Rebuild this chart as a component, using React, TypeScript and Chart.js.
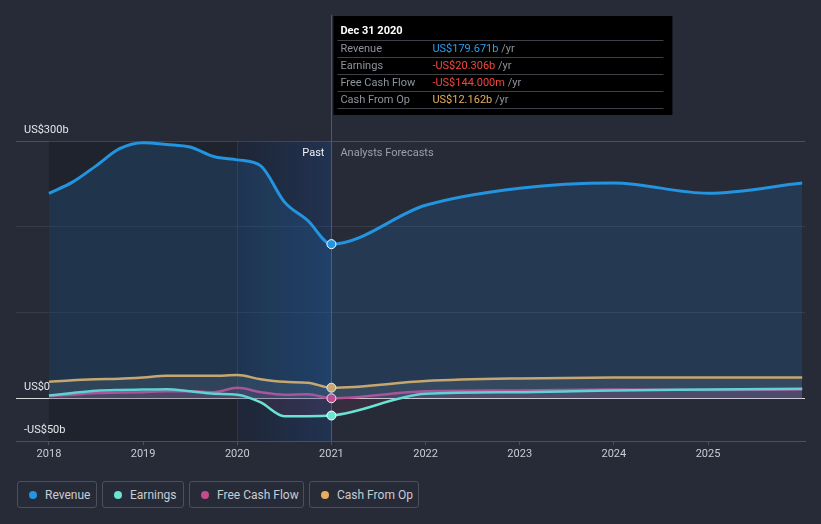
import React, { useEffect, useRef } from 'react';
import { Chart, registerables } from 'chart.js';

Chart.register(...registerables);

// ---------- data ----------
const dates = [
  2018.0, 2018.25, 2018.5, 2018.75, 2019.0, 2019.25, 2019.5, 2019.75,
  2020.0, 2020.25, 2020.5, 2020.75, 2021.0,
  2022.0, 2023.0, 2024.0, 2025.0, 2026.0,
];
const revenue = [239, 252, 271, 291, 298, 296, 293, 282, 278, 271, 229, 207, 179.671, 225, 245, 251, 239, 251];
const earnings = [3, 6, 8.5, 9.5, 10, 10.5, 8, 5, 4, -5, -21, -21, -20.306, 5, 7, 9, 10, 11];
const freeCashFlow = [2.5, 4, 6, 6.5, 7, 8, 8, 7, 12, 7, 4, 4.5, -0.144, 8, 9, 10, 9.5, 10];
const cashFromOp = [19, 21, 22, 22.5, 24, 26, 26, 26, 27, 22, 19, 18, 12.162, 20, 23, 24, 24, 24];

const seriesNames = ['Revenue', 'Earnings', 'Free Cash Flow', 'Cash From Op'];
const seriesColors = ['#2394df', '#6ae3d2', '#c54b8c', '#e8ae5c'];

const yearTicks = [2018, 2019, 2020, 2021, 2022, 2023, 2024, 2025];
const yTickValues = [-50, 0, 100, 200, 300];
const yLabels: [number, string][] = [
  [300, 'US$300b'],
  [0, 'US$0'],
  [-50, '-US$50b'],
];

const tooltipTitle = 'Dec 31 2020';
const tooltipValues = ['US$179.671b', '-US$20.306b', '-US$144.000m', 'US$12.162b'];
const tooltipValueColors = ['#2b9ef0', '#f0473c', '#f0473c', '#e8ae5c'];

const dataStart = 2018.0;
const pastStart = 2020.0;
const nowDate = 2021.0;
const markerIndex = 12;

const FONT = 'Roboto, "Noto Sans", sans-serif';
const BG = '#262b37';

function hexA(hex: string, a: number) {
  const n = parseInt(hex.slice(1), 16);
  return `rgba(${(n >> 16) & 255},${(n >> 8) & 255},${n & 255},${a})`;
}

const overlayPlugin = {
  id: 'overlay',
  beforeDatasetsDraw(chart: any) {
    const { ctx, chartArea, scales } = chart;
    const x = scales.x;
    const xStart = x.getPixelForValue(dataStart);
    const xPast = x.getPixelForValue(pastStart);
    const xNow = x.getPixelForValue(nowDate);
    const h = chartArea.bottom - chartArea.top;
    ctx.save();
    ctx.fillStyle = 'rgba(0,0,0,0.17)';
    ctx.fillRect(xStart, chartArea.top, xPast - xStart, h);
    const g = ctx.createLinearGradient(xPast, 0, xNow, 0);
    g.addColorStop(0, 'rgba(10,25,55,0.25)');
    g.addColorStop(1, 'rgba(22,70,145,0.3)');
    ctx.fillStyle = g;
    ctx.fillRect(xPast, chartArea.top, xNow - xPast, h);
    // faint line at past start
    ctx.strokeStyle = 'rgba(40,90,170,0.35)';
    ctx.lineWidth = 1;
    ctx.beginPath();
    ctx.moveTo(Math.round(xPast) + 0.5, chartArea.top);
    ctx.lineTo(Math.round(xPast) + 0.5, chartArea.bottom);
    ctx.stroke();
    // vertical "now" line
    ctx.strokeStyle = '#2a5fae';
    ctx.beginPath();
    ctx.moveTo(Math.round(xNow) + 0.5, 15);
    ctx.lineTo(Math.round(xNow) + 0.5, chartArea.bottom);
    ctx.stroke();
    ctx.restore();
  },
  afterDraw(chart: any) {
    const { ctx, chartArea, scales } = chart;
    const x = scales.x;
    const y = scales.y;
    const xNow = x.getPixelForValue(nowDate);
    ctx.save();
    // y labels
    ctx.font = `11px ${FONT}`;
    ctx.fillStyle = '#e4e6ea';
    ctx.textBaseline = 'middle';
    ctx.textAlign = 'left';
    for (const [v, t] of yLabels) {
      ctx.fillText(t, 24, y.getPixelForValue(v) - 10.5);
    }
    // past / forecast labels
    ctx.textAlign = 'right';
    ctx.fillStyle = '#eef0f3';
    ctx.fillText('Past', xNow - 7, chartArea.top + 12.5);
    ctx.textAlign = 'left';
    ctx.fillStyle = '#9aa0a9';
    ctx.fillText('Analysts Forecasts', xNow + 9, chartArea.top + 12.5);

    // tooltip box
    const bx = xNow + 2;
    const by = 16;
    const bw = 339;
    const bh = 99;
    ctx.fillStyle = '#000000';
    ctx.fillRect(bx, by, bw, bh);
    ctx.font = `bold 11px ${FONT}`;
    ctx.fillStyle = '#ffffff';
    ctx.fillText(tooltipTitle, bx + 7, 31.5);
    const rowY = [49, 66, 83, 100];
    const sepY = [40, 57, 74, 91, 108];
    ctx.strokeStyle = '#3e4148';
    ctx.lineWidth = 1;
    for (const sy of sepY) {
      ctx.beginPath();
      ctx.moveTo(bx + 4, sy + 0.5);
      ctx.lineTo(bx + 330, sy + 0.5);
      ctx.stroke();
    }
    ctx.font = `11px ${FONT}`;
    for (let i = 0; i < seriesNames.length; i++) {
      ctx.fillStyle = '#8e939b';
      ctx.fillText(seriesNames[i], bx + 7, rowY[i]);
      ctx.fillStyle = tooltipValueColors[i];
      ctx.fillText(tooltipValues[i], bx + 99, rowY[i]);
      const w = ctx.measureText(tooltipValues[i]).width;
      ctx.fillStyle = '#8e939b';
      ctx.fillText(' /yr', bx + 99 + w, rowY[i]);
    }
    ctx.restore();
  },
};

function App() {
  const ref = useRef<HTMLCanvasElement>(null);

  useEffect(() => {
    document.body.style.margin = '0';
    document.body.style.background = BG;
    const series = [revenue, earnings, freeCashFlow, cashFromOp];
    const fillColors = [
      hexA('#2189dc', 0.17),
      hexA('#c54b8c', 0.1),
      hexA('#c54b8c', 0.12),
      hexA('#a0a0a0', 0.14),
    ];
    const chart = new Chart(ref.current as HTMLCanvasElement, {
      type: 'line',
      data: {
        datasets: series.map((vals, si) => ({
          label: seriesNames[si],
          data: dates.map((d, i) => ({ x: d, y: vals[i] })),
          borderColor: seriesColors[si],
          backgroundColor: fillColors[si],
          fill: 'origin',
          borderWidth: si === 0 ? 3 : 2.5,
          cubicInterpolationMode: 'monotone',
          pointRadius: dates.map((_, i) => (i === markerIndex ? 4.5 : 0)),
          pointHoverRadius: 0,
          pointBackgroundColor: seriesColors[si],
          pointBorderColor: '#ffffff',
          pointBorderWidth: 1,
        })) as any,
      },
      options: {
        animation: false,
        responsive: false,
        maintainAspectRatio: false,
        events: [],
        layout: { padding: { left: 16, right: 16, top: 141, bottom: 0 } },
        plugins: { legend: { display: false }, tooltip: { enabled: false } },
        scales: {
          x: {
            type: 'linear',
            min: 2017.65,
            max: 2026.03,
            afterBuildTicks: (s: any) => {
              s.ticks = yearTicks.map((v) => ({ value: v }));
            },
            afterFit: (s: any) => {
              s.height = 29;
            },
            grid: { drawOnChartArea: false, drawTicks: true, tickLength: 4, color: '#4a505c' },
            border: { display: true, color: '#4a505c' },
            ticks: {
              color: '#c9ccd2',
              font: { size: 11, family: FONT },
              padding: 3,
              autoSkip: false,
              maxRotation: 0,
              callback: (v: any) => String(v),
            },
          },
          y: {
            type: 'linear',
            min: -50,
            max: 300,
            afterBuildTicks: (s: any) => {
              s.ticks = yTickValues.map((v) => ({ value: v }));
            },
            afterFit: (s: any) => {
              s.width = 0;
            },
            ticks: { display: false },
            border: { display: false },
            grid: {
              drawTicks: false,
              color: (c: any) => {
                const v = c.tick ? c.tick.value : null;
                if (v === 300) return '#4a505c';
                if (v === 0) return '#d6d8dc';
                if (v === -50) return 'rgba(0,0,0,0)';
                return '#363c48';
              },
            },
          },
        },
      },
      plugins: [overlayPlugin],
    });
    return () => chart.destroy();
  }, []);

  const legendWidths = [80, 82, 115, 110];
  return (
    <div style={{ position: 'relative', width: 821, height: 524, background: BG, fontFamily: FONT }}>
      <canvas ref={ref} width={821} height={470} style={{ display: 'block', width: 821, height: 470 }} />
      <div style={{ position: 'absolute', left: 17, top: 481, display: 'flex', gap: 5 }}>
        {seriesNames.map((n, i) => (
          <div
            key={n}
            style={{
              boxSizing: 'border-box',
              width: legendWidths[i],
              height: 27,
              border: '1px solid #4a505c',
              borderRadius: 3,
              display: 'flex',
              alignItems: 'center',
              paddingLeft: 11,
              color: '#c8ccd3',
              fontSize: 12,
            }}
          >
            <span
              style={{
                display: 'inline-block',
                width: 8,
                height: 8,
                borderRadius: 4,
                background: seriesColors[i],
                marginRight: 8,
              }}
            />
            {n}
          </div>
        ))}
      </div>
    </div>
  );
}

export default App;
